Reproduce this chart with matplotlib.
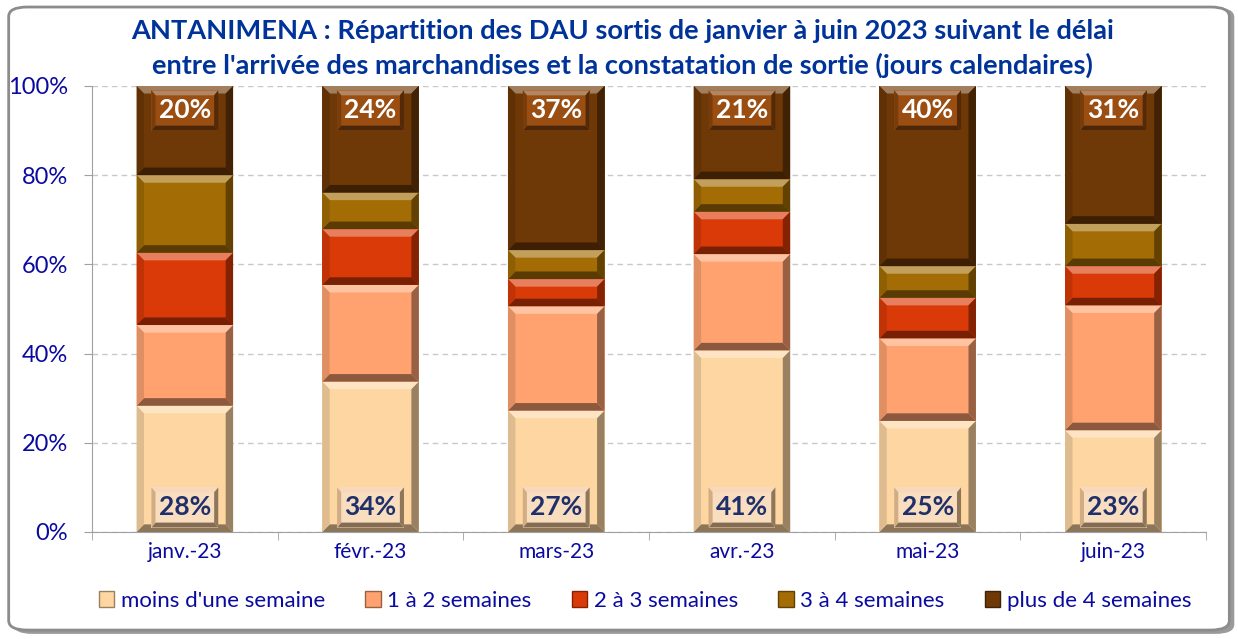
import numpy as np
import matplotlib.pyplot as plt
from matplotlib.patches import Polygon, FancyBboxPatch, Patch
from matplotlib.colors import to_rgb

plt.rcParams['font.family'] = ['Lato', 'DejaVu Sans']

# Data (percent of DAU per month)
months = ['janv.-23', 'févr.-23', 'mars-23', 'avr.-23', 'mai-23', 'juin-23']
series = ["moins d'une semaine", '1 à 2 semaines', '2 à 3 semaines',
          '3 à 4 semaines', 'plus de 4 semaines']
moins_1 = [28.3, 33.7, 27.2, 40.7, 24.9, 22.8]
s1_2 = [18.1, 21.7, 23.4, 21.6, 18.5, 28.0]
s2_3 = [16.2, 12.5, 6.1, 9.5, 9.1, 8.8]
s3_4 = [17.4, 8.2, 6.5, 7.3, 7.1, 9.5]
plus_4 = [20.0, 23.9, 36.8, 20.9, 40.4, 30.9]
colors = ['#FDD6A2', '#FFA270', '#DA3A07', '#A36C05', '#6E3807']

title = ("ANTANIMENA : Répartition des DAU sortis de janvier à juin 2023 suivant le délai\n"
         "entre l'arrivée des marchandises et la constatation de sortie (jours calendaires)")
blue = '#0A0AA0'
navy = '#003399'


def shade(c, f):
    r = np.array(to_rgb(c))
    if f >= 0:
        return tuple(r + (1 - r) * f)
    return tuple(r * (1 + f))


def bevel(ax, x0, y0, w, h, c, bx=0.04, by=1.7, z=3):
    # Excel-like bevel: light top, dark bottom, shaded sides
    x1, y1 = x0 + w, y0 + h
    bx = min(bx, w / 3)
    by = min(by, h / 3)
    ix0, ix1, iy0, iy1 = x0 + bx, x1 - bx, y0 + by, y1 - by
    polys = [
        ([(x0, y1), (x1, y1), (ix1, iy1), (ix0, iy1)], shade(c, 0.35)),
        ([(x0, y0), (x1, y0), (ix1, iy0), (ix0, iy0)], shade(c, -0.45)),
        ([(x0, y0), (ix0, iy0), (ix0, iy1), (x0, y1)], shade(c, -0.12)),
        ([(x1, y0), (ix1, iy0), (ix1, iy1), (x1, y1)], shade(c, -0.4)),
    ]
    for pts, col in polys:
        ax.add_patch(Polygon(pts, closed=True, facecolor=col, edgecolor='none', zorder=z))


fig = plt.figure(figsize=(12.38, 6.39), dpi=100)
fig.patch.set_facecolor('white')

# outer rounded frame with shadow
fig.patches.append(FancyBboxPatch((0.011, 0.008), 0.986, 0.98,
                                  boxstyle='round,pad=0,rounding_size=0.015',
                                  transform=fig.transFigure, facecolor='#9a9a9a',
                                  edgecolor='none', zorder=0))
fig.patches.append(FancyBboxPatch((0.007, 0.014), 0.986, 0.975,
                                  boxstyle='round,pad=0,rounding_size=0.015',
                                  transform=fig.transFigure, facecolor='white',
                                  edgecolor='#8c8c8c', linewidth=2.0, zorder=1))

ax = fig.add_axes([0.0743, 0.1675, 0.900, 0.698])
ax.set_zorder(2)
ax.patch.set_alpha(0)

x = np.arange(len(months))
width = 0.52
bottom = np.zeros(len(months))
data = [moins_1, s1_2, s2_3, s3_4, plus_4]
bar_sets = []
for vals, col, name in zip(data, colors, series):
    bars = ax.bar(x, vals, width, bottom=bottom, color=col, edgecolor='none',
                  label=name, zorder=2)
    for b in bars:
        bevel(ax, b.get_x(), b.get_y(), b.get_width(), b.get_height(), col)
    bar_sets.append(bars)
    bottom += np.array(vals)

# data labels: first series at the base, last series at the top
bw, bh = 0.36, 9.0
for b, v in zip(bar_sets[0], moins_1):
    cx = b.get_x() + b.get_width() / 2
    y0 = 1.0
    ax.add_patch(plt.Rectangle((cx - bw / 2, y0), bw, bh, facecolor='#F8DDBE',
                               edgecolor='none', zorder=4))
    bevel(ax, cx - bw / 2, y0, bw, bh, '#EFC495', bx=0.022, by=1.1, z=5)
    ax.text(cx, y0 + bh / 2, f'{v:.0f}%', ha='center', va='center',
            fontsize=19, fontweight='bold', color='#1F2F6B', zorder=6)

for b, v in zip(bar_sets[-1], plus_4):
    cx = b.get_x() + b.get_width() / 2
    y0 = 100 - 1.0 - bh
    ax.add_patch(plt.Rectangle((cx - bw / 2, y0), bw, bh, facecolor='#9A4E12',
                               edgecolor='none', zorder=4))
    bevel(ax, cx - bw / 2, y0, bw, bh, '#8A450E', bx=0.022, by=1.1, z=5)
    ax.text(cx, y0 + bh / 2, f'{v:.0f}%', ha='center', va='center',
            fontsize=19, fontweight='bold', color='white', zorder=6)

ax.set_xlim(-0.5, len(months) - 0.5)
ax.set_ylim(0, 100)
ax.set_yticks(np.arange(0, 101, 20))
ax.set_yticklabels([f'{t}%' for t in range(0, 101, 20)])
ax.set_xticks(x)
ax.set_xticklabels(months)
ax.set_xticks(np.arange(-0.5, len(months)), minor=True)
ax.tick_params(axis='x', which='major', length=0, labelsize=15, labelcolor=blue, pad=7)
ax.tick_params(axis='x', which='minor', length=6, color='#a0a0a0', direction='out')
ax.tick_params(axis='y', length=6, color='#a0a0a0', labelsize=17, labelcolor=blue, pad=11)
ax.yaxis.grid(True, linestyle=(0, (4, 3)), color='#c8c8c8', linewidth=1)
ax.set_axisbelow(True)
for s in ['top', 'right']:
    ax.spines[s].set_visible(False)
for s in ['left', 'bottom']:
    ax.spines[s].set_color('#a0a0a0')

fig.text(0.503, 0.97, title, ha='center', va='top', fontsize=19.6, fontweight='bold',
         color=navy, linespacing=1.45)

handles = [Patch(facecolor=c, edgecolor=shade(c, -0.4), linewidth=1) for c in colors]
fig.legend(handles, series, loc='center', bbox_to_anchor=(0.521, 0.06), ncol=5,
           frameon=False, fontsize=16, labelcolor=blue, handlelength=0.7,
           handleheight=0.7, handletextpad=0.3, columnspacing=1.8)

fig.savefig('out.png', dpi=100)
